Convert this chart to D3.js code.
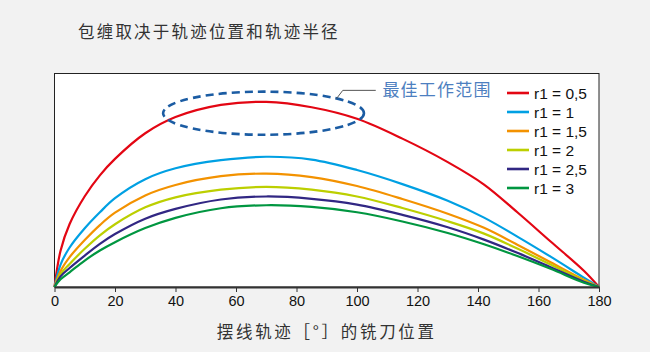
<!DOCTYPE html>
<html>
<head>
<meta charset="utf-8">
<script src="https://cdn.jsdelivr.net/npm/d3@7"></script>
<style>
  html, body { margin: 0; padding: 0; background: #f2f2f2; }
  svg { display: block; }
  .cjk { font-family: "Noto Sans CJK SC", sans-serif; }
  .latin { font-family: "Liberation Sans", Arial, sans-serif; }
</style>
</head>
<body>
<div id="chart"></div>
<script>
// cutter position along trochoid path [deg]
const positions = [0, 2, 5, 10, 15, 20, 30, 40, 55, 70, 85, 100, 115, 130, 142, 153, 164, 175, 180];

// wrap (relative)
const r05 = [0, 17.0, 29.5, 42.5, 52.3, 60.0, 72.0, 79.6, 85.3, 86.7, 84.2, 78.8, 69.5, 58.5, 48.0, 35.0, 21.3, 7.6, 0];
const r10 = [0, 10.5, 18.5, 27.5, 35.0, 41.6, 50.5, 55.6, 59.4, 61.0, 59.7, 54.8, 48.2, 40.4, 32.5, 23.6, 14.2, 4.4, 0];
const r15 = [0, 7.5, 14.0, 22.0, 29.0, 34.8, 42.9, 47.8, 51.9, 53.1, 51.5, 47.3, 41.2, 34.3, 27.7, 19.8, 11.6, 3.4, 0];
const r20 = [0, 6.0, 10.8, 17.9, 24.2, 29.4, 37.3, 42.0, 45.6, 46.9, 45.6, 42.4, 37.0, 30.8, 25.0, 18.0, 10.5, 2.9, 0];
const r25 = [0, 5.0, 8.9, 14.7, 20.2, 24.8, 32.0, 36.6, 41.0, 42.4, 41.3, 38.6, 33.8, 28.0, 22.2, 16.0, 9.3, 2.5, 0];
const r30 = [0, 3.6, 6.9, 12.4, 17.1, 21.0, 27.6, 32.4, 36.9, 38.3, 37.5, 35.0, 30.7, 25.3, 20.0, 14.5, 8.5, 2.0, 0];

const seriesNames = ['r1 = 0,5', 'r1 = 1', 'r1 = 1,5', 'r1 = 2', 'r1 = 2,5', 'r1 = 3'];
const seriesColors = ['#e30613', '#00a0e3', '#f39200', '#bccf00', '#312783', '#009640'];
const seriesValues = [r05, r10, r15, r20, r25, r30];

const xTicks = [0, 20, 40, 60, 80, 100, 120, 140, 160, 180];

// best working range: ellipse centre [deg, value] and radii
const bestCenter = [69.1, 81.4];
const bestRadii = [33.2, 10.1];
// leader line from label to ellipse
const leaderPts = [[106.2, 92.1], [95.3, 92.1], [93.2, 88.2]];
const bestLabel = '最佳工作范围';

const width = 650, height = 352;
const margin = { top: 73.5, right: 51, bottom: 65, left: 54.5 };
const innerW = width - margin.left - margin.right;
const innerH = height - margin.top - margin.bottom;

const svg = d3.select('#chart').append('svg')
  .attr('width', width)
  .attr('height', height);

svg.append('rect')
  .attr('width', width).attr('height', height)
  .attr('fill', '#f2f2f2');

svg.append('text')
  .attr('class', 'cjk')
  .attr('x', 78)
  .attr('y', 38)
  .attr('font-size', 16.5)
  .attr('letter-spacing', 2.2)
  .attr('fill', '#333')
  .text('包缠取决于轨迹位置和轨迹半径');

const g = svg.append('g')
  .attr('transform', `translate(${margin.left},${margin.top})`);

const x = d3.scaleLinear().domain([0, 180]).range([0, innerW]);
const y = d3.scaleLinear().domain([0, 100]).range([innerH, 0]);

// plot area
g.append('rect')
  .attr('width', innerW)
  .attr('height', innerH)
  .attr('fill', '#fff')
  .attr('stroke', '#222')
  .attr('stroke-width', 1);

const line = d3.line()
  .curve(d3.curveCatmullRom.alpha(0.5))
  .x(d => x(d[0]))
  .y(d => y(d[1]));

const linesG = g.append('g');
seriesValues.forEach((vals, i) => {
  linesG.append('path')
    .attr('fill', 'none')
    .attr('stroke', seriesColors[i])
    .attr('stroke-width', 2.2)
    .attr('stroke-linejoin', 'round')
    .attr('d', line(positions.map((p, j) => [p, vals[j]])));
});

// x axis
const xAxisG = g.append('g')
  .attr('transform', `translate(0,${innerH})`)
  .call(d3.axisBottom(x).tickValues(xTicks).tickSize(5).tickSizeOuter(0).tickPadding(4));
xAxisG.select('.domain').attr('stroke', '#333').attr('stroke-width', 2);
xAxisG.selectAll('.tick line').attr('stroke', '#333').attr('stroke-width', 1);
xAxisG.selectAll('.tick text')
  .attr('class', 'latin')
  .attr('font-size', 14.5)
  .attr('fill', '#111');

g.append('text')
  .attr('class', 'cjk')
  .attr('x', innerW / 2 + 0)
  .attr('y', innerH + 51)
  .attr('text-anchor', 'middle')
  .attr('font-size', 16.5)
  .attr('letter-spacing', 2.7)
  .attr('fill', '#333')
  .text('摆线轨迹［°］的铣刀位置');

// best working range ellipse
g.append('ellipse')
  .attr('cx', x(bestCenter[0]))
  .attr('cy', y(bestCenter[1]))
  .attr('rx', x(bestCenter[0] + bestRadii[0]) - x(bestCenter[0]))
  .attr('ry', y(bestCenter[1] - bestRadii[1]) - y(bestCenter[1]))
  .attr('fill', 'none')
  .attr('stroke', '#1b5ca3')
  .attr('stroke-width', 2.6)
  .attr('stroke-dasharray', '8,5');

g.append('path')
  .attr('fill', 'none')
  .attr('stroke', '#555')
  .attr('stroke-width', 1)
  .attr('d', d3.line().x(d => x(d[0])).y(d => y(d[1]))(leaderPts));

g.append('text')
  .attr('class', 'cjk')
  .attr('x', x(108.4))
  .attr('y', y(92.1) + 6)
  .attr('font-size', 17)
  .attr('letter-spacing', 1.2)
  .attr('fill', '#4d7fc0')
  .text(bestLabel);

// legend
const legend = svg.append('g')
  .attr('transform', 'translate(507,93)');
seriesNames.forEach((name, i) => {
  const row = legend.append('g').attr('transform', `translate(0,${i * 19})`);
  row.append('line')
    .attr('x1', 0).attr('x2', 22)
    .attr('stroke', seriesColors[i])
    .attr('stroke-width', 2.6);
  row.append('text')
    .attr('class', 'latin')
    .attr('x', 27)
    .attr('y', 5.5)
    .attr('font-size', 15.5)
    .attr('fill', '#111')
    .text(name);
});
</script>
</body>
</html>
